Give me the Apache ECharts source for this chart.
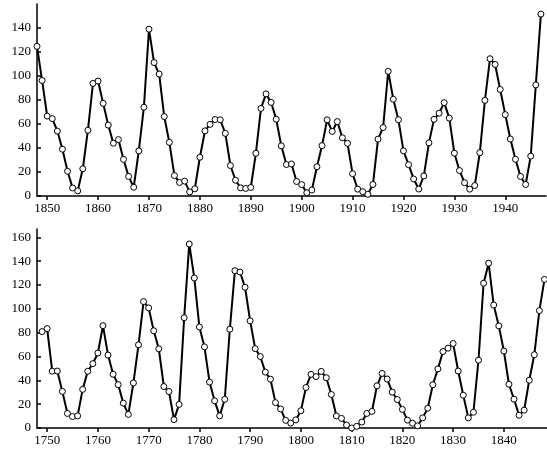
<!DOCTYPE html><html><head><meta charset="utf-8">
<script src="https://cdn.jsdelivr.net/npm/echarts@6/dist/echarts.min.js"></script>
<style>body{margin:0;background:#fff}#c{width:547px;height:450px}</style></head><body><div id="c"></div>
<script>
const yearsTop=[];for(let y=1848;y<=1947;y++)yearsTop.push(y);
const valuesTop=[124.7,96.3,66.6,64.5,54.1,39.0,20.6,6.7,4.3,22.7,54.8,93.8,95.8,77.2,59.1,44.0,47.0,30.5,16.3,7.3,37.6,74.0,139.0,111.2,101.6,66.2,44.7,17.0,11.3,12.4,3.4,6.0,32.3,54.3,59.7,63.7,63.5,52.2,25.4,13.1,6.8,6.3,7.1,35.6,73.0,85.1,78.0,64.0,41.8,26.2,26.7,12.1,9.5,2.7,5.0,24.4,42.0,63.5,53.8,62.0,48.5,43.9,18.6,5.7,3.6,1.4,9.6,47.4,57.1,103.9,80.6,63.6,37.6,26.1,14.2,5.8,16.7,44.3,63.9,69.0,77.8,64.9,35.7,21.2,11.1,5.7,8.7,36.1,79.7,114.4,109.6,88.8,67.8,47.5,30.6,16.3,9.6,33.2,92.6,151.6];
const yearsBottom=[];for(let y=1749;y<=1848;y++)yearsBottom.push(y);
const valuesBottom=[80.9,83.4,47.7,47.8,30.7,12.2,9.6,10.2,32.4,47.6,54.0,62.9,85.9,61.2,45.1,36.4,20.9,11.4,37.8,69.8,106.1,100.8,81.6,66.5,34.8,30.6,7.0,19.8,92.5,154.4,125.9,84.8,68.1,38.5,22.8,10.2,24.1,82.9,132.0,130.9,118.1,89.9,66.6,60.0,46.9,41.0,21.3,16.0,6.4,4.1,6.8,14.5,34.0,45.0,43.1,47.5,42.2,28.1,10.1,8.1,2.5,0.0,1.4,5.0,12.2,13.9,35.4,45.8,41.1,30.1,23.9,15.6,6.6,4.0,1.8,8.5,16.6,36.3,49.6,64.2,67.0,70.9,47.8,27.5,8.5,13.2,56.9,121.5,138.3,103.2,85.7,64.6,36.7,24.2,10.7,15.0,40.1,61.5,98.5,124.7];
const ticksTop=[1850,1860,1870,1880,1890,1900,1910,1920,1930,1940];
const ticksBottom=[1750,1760,1770,1780,1790,1800,1810,1820,1830,1840];
const yTicksTop=[0,20,40,60,80,100,120,140];
const yTicksBottom=[0,20,40,60,80,100,120,140,160];
const font={fontFamily:'Liberation Serif',fontSize:13,color:'#000'};
const line={lineStyle:{color:'#000',width:1.5}};
function xa(i,min,max,ticks){return {gridIndex:i,type:'value',min,max,axisLine:{onZero:false,...line},
 axisTick:{customValues:ticks,length:4,...line},axisLabel:{customValues:ticks,...font,margin:6,formatter:v=>String(v)},splitLine:{show:false}};}
function ya(i,max,ticks){return {gridIndex:i,type:'value',min:0,max,axisLine:line,
 axisTick:{customValues:ticks,inside:true,length:4,...line},axisLabel:{customValues:ticks,...font,margin:6},splitLine:{show:false}};}
function ser(i,xs,vs){return {type:'line',xAxisIndex:i,yAxisIndex:i,data:xs.map((x,k)=>[x,vs[k]]),
 symbol:'circle',symbolSize:6,itemStyle:{color:'#fff',borderColor:'#000',borderWidth:1},lineStyle:{color:'#000',width:2},animation:false};}
const chart=echarts.init(document.getElementById('c'));
chart.setOption({animation:false,
 grid:[{left:37,right:1,top:4,bottom:254},{left:37,right:0,top:229,bottom:22}],
 xAxis:[xa(0,1848,1948,ticksTop),xa(1,1748,1848.5,ticksBottom)],
 yAxis:[ya(0,160,yTicksTop),ya(1,167,yTicksBottom)],
 series:[ser(0,yearsTop,valuesTop),ser(1,yearsBottom,valuesBottom)]});
</script></body></html>
